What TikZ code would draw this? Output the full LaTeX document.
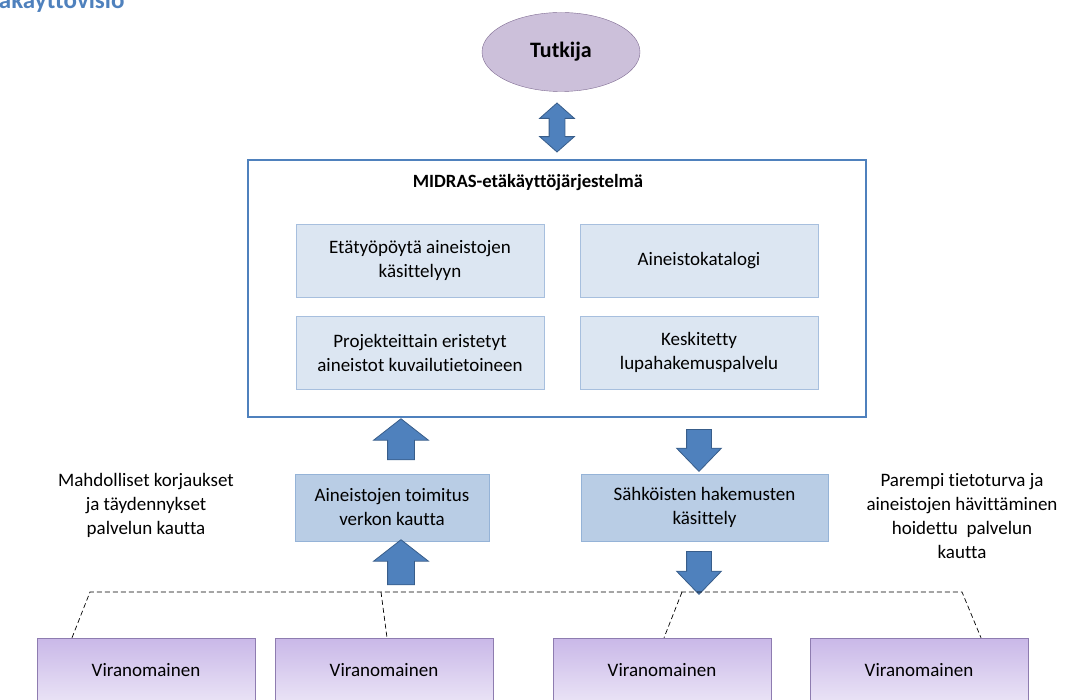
\documentclass[tikz,border=0pt]{standalone}
\usepackage{fontspec}
\setmainfont{Carlito}[Ligatures=NoCommon]
\usetikzlibrary{positioning, shapes.geometric, shapes.arrows}

\definecolor{ellfill}{HTML}{CCC0DA}
\definecolor{elldraw}{HTML}{7F6B92}
\definecolor{mainline}{HTML}{4F81BD}
\definecolor{innerfill}{HTML}{DCE6F2}
\definecolor{innerline}{HTML}{A7BFDE}
\definecolor{midfill}{HTML}{B9CDE5}
\definecolor{midline}{HTML}{95B3D7}
\definecolor{arrowfill}{HTML}{4F81BD}
\definecolor{arrowline}{HTML}{385D8A}
\definecolor{virafill}{HTML}{C9B8E8}
\definecolor{viralight}{HTML}{EAE3F6}
\definecolor{viraline}{HTML}{8E7CB0}

\begin{document}
\begin{tikzpicture}[x=1pt, y=-1pt, font=\fontsize{19}{24}\selectfont,
    innerbox/.style={draw=innerline, fill=innerfill, minimum height=73pt, align=center},
    midbox/.style={draw=midline, fill=midfill, minimum height=67pt, align=center},
    virabox/.style={draw=viraline, top color=virafill, middle color=virafill, bottom color=viralight,
      minimum width=218pt, minimum height=64pt},
    blockarrow/.style={single arrow, draw=arrowline, fill=arrowfill, line width=0.8pt, inner xsep=0pt},
    dashedline/.style={draw=black, dash pattern=on 5pt off 3pt, line width=0.7pt}]
  \useasboundingbox (0,0) rectangle (1068,700);

  % Title (cut at the page edge)
  \node[anchor=base east, text=mainline, font=\fontsize{25}{28}\selectfont\bfseries] (heading) at (128,9) {Etäkäyttövisio};

  % Researcher
  \node[ellipse, draw=elldraw, fill=ellfill, minimum width=158pt, minimum height=79pt,
    font=\fontsize{22}{24}\selectfont\bfseries] (tutkija) at (561,52) {Tutkija};
  \node[double arrow, draw=arrowline, fill=arrowfill, line width=0.8pt, rotate=90, minimum height=49pt,
    inner xsep=0pt, inner ysep=7.5pt, double arrow head extend=9.5pt, double arrow tip angle=97] (a0) at (557,127.5) {};

  % System
  \node[draw=mainline, line width=2.5pt, minimum width=618pt, minimum height=257pt] (midras) at (557,288.5) {};
  \node[font=\fontsize{18.7}{24}\selectfont\bfseries] (midrastitle) at (528,183) {MIDRAS-etäkäyttöjärjestelmä};
  \node[innerbox, minimum width=248pt] (b1) at (420,260.5) {Etätyöpöytä aineistojen\\käsittelyyn};
  \node[innerbox, minimum width=238pt] (b2) at (699,260.5) {Aineistokatalogi};
  \node[innerbox, minimum width=248pt] (b3) at (420,352.5) {Projekteittain eristetyt\\aineistot kuvailutietoineen};
  \node[innerbox, minimum width=238pt] (b4) at (699,352.5) {Keskitetty\\lupahakemuspalvelu};

  % Services
  \node[midbox, minimum width=194pt] (toimitus) at (392,507.5) {Aineistojen toimitus\\verkon kautta};
  \node[midbox, minimum width=247pt] (hakemus) at (704.5,507.5) {Sähköisten hakemusten\\käsittely};

  \node[blockarrow, rotate=90, minimum height=41pt, minimum width=54pt, inner ysep=13pt,
    single arrow head extend=14pt, single arrow tip angle=104] (a1) at (401,444.5) {};
  \node[blockarrow, rotate=90, minimum height=45pt, minimum width=54pt, inner ysep=13pt,
    single arrow head extend=14pt, single arrow tip angle=104] (a2) at (401,567.5) {};
  \node[blockarrow, rotate=-90, minimum height=42pt, minimum width=44pt, inner ysep=12pt,
    single arrow head extend=10pt, single arrow tip angle=88] (a3) at (699,444) {};
  \node[blockarrow, rotate=-90, minimum height=43pt, minimum width=44pt, inner ysep=12pt,
    single arrow head extend=10pt, single arrow tip angle=88] (a4) at (699,566.5) {};

  % Notes
  \node[align=center] (note1) at (146,505) {Mahdolliset korjaukset\\ja täydennykset\\palvelun kautta};
  \node[align=center] (note2) at (962,516.5) {Parempi tietoturva ja\\aineistojen hävittäminen\\hoidettu~ palvelun\\kautta};

  % Authorities
  \node[virabox] (v1) at (146,670) {Viranomainen};
  \node[virabox] (v2) at (384,670) {Viranomainen};
  \node[virabox] (v3) at (662,670) {Viranomainen};
  \node[virabox] (v4) at (919,670) {Viranomainen};

  \coordinate (j1) at (90,592);
  \coordinate (j2) at (381,592);
  \coordinate (j3) at (682,592);
  \coordinate (j4) at (962,592);
  \draw[dashedline] ([xshift=-74pt]v1.north) -- (j1) -- (j4) -- ([xshift=62pt]v4.north);
  \draw[dashedline] (j2) -- ([xshift=3pt]v2.north);
  \draw[dashedline] (j3) -- ([xshift=2pt]v3.north);
\end{tikzpicture}
\end{document}
